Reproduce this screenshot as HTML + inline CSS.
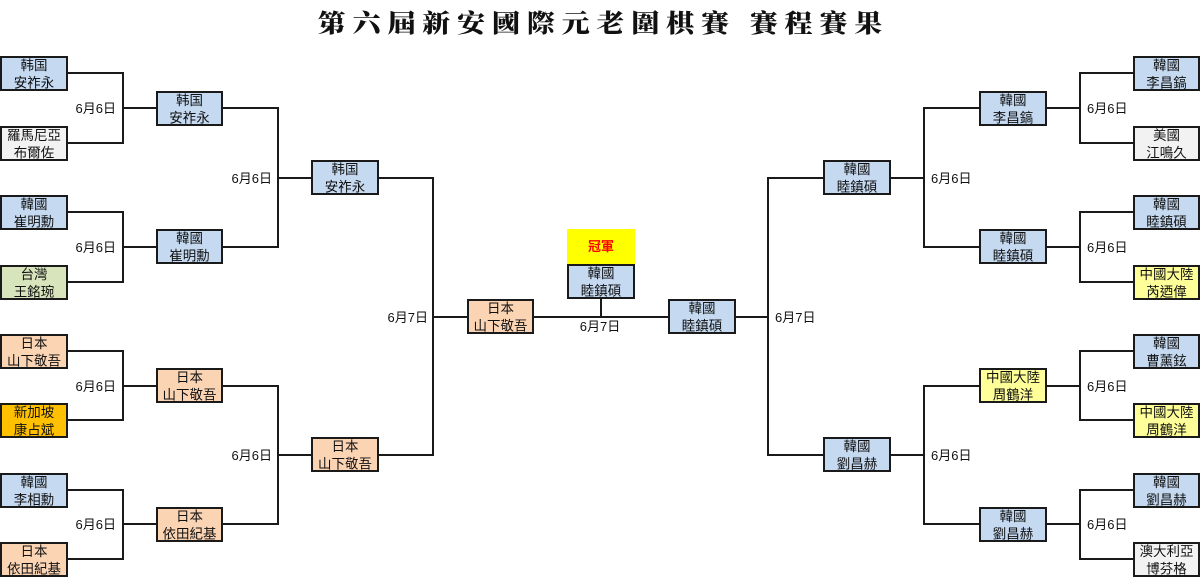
<!DOCTYPE html>
<html>
<head>
<meta charset="utf-8">
<style>
  html, body { margin: 0; padding: 0; background: #ffffff; }
  body { width: 1200px; height: 577px; overflow: hidden; }
  svg { display: block; }
  .t { font-family: "Liberation Sans", "Noto Sans CJK TC", "Noto Sans CJK SC", sans-serif; font-size: 13.5px; fill: #111; text-anchor: middle; }
  .l { font-family: "Liberation Sans", "Noto Sans CJK TC", "Noto Sans CJK SC", sans-serif; font-size: 13px; fill: #111; }
  .ttl { font-family: "Liberation Serif", "Noto Serif CJK SC", serif; font-size: 25px; font-weight: 900; fill: #111; }
  .bx { stroke: #1a1a1a; stroke-width: 2; }
  .ln { stroke: #1a1a1a; stroke-width: 2; fill: none; }
  .blue { fill: #c5d9f1; }
  .peach { fill: #fbd4b4; }
  .green { fill: #d7e4bc; }
  .orange { fill: #ffc000; }
  .ly { fill: #ffff99; }
  .grey { fill: #f2f2f2; }
</style>
</head>
<body>
<svg width="1200" height="577" viewBox="0 0 1200 577" xmlns="http://www.w3.org/2000/svg">
  <!-- Title -->
  <g transform="translate(600,0) scale(1.12,1)">
    <text class="ttl" x="0" y="32" text-anchor="middle" textLength="504" lengthAdjust="spacing">第六屆新安國際元老圍棋賽 賽程賽果</text>
  </g>

  <!-- Connector lines -->
  <path class="ln" d="M68 73 H123 V143 H68 M123 108 H156"/>
  <path class="ln" d="M68 212 H123 V282 H68 M123 247 H156"/>
  <path class="ln" d="M68 351 H123 V420 H68 M123 386 H156"/>
  <path class="ln" d="M68 490 H123 V559 H68 M123 524 H156"/>
  <path class="ln" d="M223 108 H278 V247 H223 M278 178 H311"/>
  <path class="ln" d="M223 386 H278 V524 H223 M278 455 H311"/>
  <path class="ln" d="M379 178 H433 V455 H379 M433 317 H467"/>
  <path class="ln" d="M534 317 H668 M601 299 V317"/>
  <path class="ln" d="M736 317 H768 M823 178 H768 V455 H823"/>
  <path class="ln" d="M891 178 H924 M979 108 H924 V247 H979"/>
  <path class="ln" d="M891 455 H924 M979 386 H924 V524 H979"/>
  <path class="ln" d="M1047 108 H1080 M1133 73 H1080 V143 H1133"/>
  <path class="ln" d="M1047 247 H1080 M1133 212 H1080 V282 H1133"/>
  <path class="ln" d="M1047 386 H1080 M1133 351 H1080 V420 H1133"/>
  <path class="ln" d="M1047 524 H1080 M1133 490 H1080 V559 H1133"/>

  <!-- Left R1 -->
  <rect class="bx blue" x="1" y="57" width="66" height="33"/>
  <text class="t" x="34" y="70">韩国</text><text class="t" x="34" y="87.5">安祚永</text>
  <rect class="bx grey" x="1" y="127" width="66" height="33"/>
  <text class="t" x="34" y="140">羅馬尼亞</text><text class="t" x="34" y="157.5">布爾佐</text>
  <rect class="bx blue" x="1" y="196" width="66" height="33"/>
  <text class="t" x="34" y="209">韓國</text><text class="t" x="34" y="226.5">崔明勳</text>
  <rect class="bx green" x="1" y="266" width="66" height="33"/>
  <text class="t" x="34" y="279">台灣</text><text class="t" x="34" y="296.5">王銘琬</text>
  <rect class="bx peach" x="1" y="335" width="66" height="33"/>
  <text class="t" x="34" y="348">日本</text><text class="t" x="34" y="365.5">山下敬吾</text>
  <rect class="bx orange" x="1" y="404" width="66" height="33"/>
  <text class="t" x="34" y="417">新加坡</text><text class="t" x="34" y="434.5">康占斌</text>
  <rect class="bx blue" x="1" y="474" width="66" height="33"/>
  <text class="t" x="34" y="487">韓國</text><text class="t" x="34" y="504.5">李相勳</text>
  <rect class="bx peach" x="1" y="543" width="66" height="33"/>
  <text class="t" x="34" y="556">日本</text><text class="t" x="34" y="573.5">依田紀基</text>

  <!-- Left R2 -->
  <rect class="bx blue" x="157" y="92" width="65" height="33"/>
  <text class="t" x="189.5" y="105">韩国</text><text class="t" x="189.5" y="122.5">安祚永</text>
  <rect class="bx blue" x="157" y="230" width="65" height="33"/>
  <text class="t" x="189.5" y="243">韓國</text><text class="t" x="189.5" y="260.5">崔明勳</text>
  <rect class="bx peach" x="157" y="369" width="65" height="33"/>
  <text class="t" x="189.5" y="382">日本</text><text class="t" x="189.5" y="399.5">山下敬吾</text>
  <rect class="bx peach" x="157" y="508" width="65" height="33"/>
  <text class="t" x="189.5" y="521">日本</text><text class="t" x="189.5" y="538.5">依田紀基</text>

  <!-- Left R3 -->
  <rect class="bx blue" x="312" y="161" width="66" height="33"/>
  <text class="t" x="345" y="174">韩国</text><text class="t" x="345" y="191.5">安祚永</text>
  <rect class="bx peach" x="312" y="438" width="66" height="33"/>
  <text class="t" x="345" y="451">日本</text><text class="t" x="345" y="468.5">山下敬吾</text>

  <!-- Semis -->
  <rect class="bx peach" x="468" y="300" width="65" height="33"/>
  <text class="t" x="500.5" y="313">日本</text><text class="t" x="500.5" y="330.5">山下敬吾</text>
  <rect class="bx blue" x="669" y="300" width="66" height="33"/>
  <text class="t" x="702" y="313">韓國</text><text class="t" x="702" y="330.5">睦鎮碩</text>

  <!-- Champion -->
  <rect x="567" y="229" width="68" height="35" fill="#ffff00"/>
  <text class="t" x="601" y="251" style="fill:#ff0000;font-weight:bold;font-size:13px;">冠軍</text>
  <rect class="bx blue" x="568" y="265" width="66" height="33"/>
  <text class="t" x="601" y="278">韓國</text><text class="t" x="601" y="295.5">睦鎮碩</text>

  <!-- Right R3 -->
  <rect class="bx blue" x="824" y="161" width="66" height="33"/>
  <text class="t" x="857" y="174">韓國</text><text class="t" x="857" y="191.5">睦鎮碩</text>
  <rect class="bx blue" x="824" y="438" width="66" height="33"/>
  <text class="t" x="857" y="451">韓國</text><text class="t" x="857" y="468.5">劉昌赫</text>

  <!-- Right R2 -->
  <rect class="bx blue" x="980" y="92" width="66" height="33"/>
  <text class="t" x="1013" y="105">韓國</text><text class="t" x="1013" y="122.5">李昌鎬</text>
  <rect class="bx blue" x="980" y="230" width="66" height="33"/>
  <text class="t" x="1013" y="243">韓國</text><text class="t" x="1013" y="260.5">睦鎮碩</text>
  <rect class="bx ly" x="980" y="369" width="66" height="33"/>
  <text class="t" x="1013" y="382">中國大陸</text><text class="t" x="1013" y="399.5">周鶴洋</text>
  <rect class="bx blue" x="980" y="508" width="66" height="33"/>
  <text class="t" x="1013" y="521">韓國</text><text class="t" x="1013" y="538.5">劉昌赫</text>

  <!-- Right R1 -->
  <rect class="bx blue" x="1134" y="57" width="65" height="33"/>
  <text class="t" x="1166.5" y="70">韓國</text><text class="t" x="1166.5" y="87.5">李昌鎬</text>
  <rect class="bx grey" x="1134" y="127" width="65" height="33"/>
  <text class="t" x="1166.5" y="140">美國</text><text class="t" x="1166.5" y="157.5">江鳴久</text>
  <rect class="bx blue" x="1134" y="196" width="65" height="33"/>
  <text class="t" x="1166.5" y="209">韓國</text><text class="t" x="1166.5" y="226.5">睦鎮碩</text>
  <rect class="bx ly" x="1134" y="266" width="65" height="33"/>
  <text class="t" x="1166.5" y="279">中國大陸</text><text class="t" x="1166.5" y="296.5">芮迺偉</text>
  <rect class="bx blue" x="1134" y="335" width="65" height="33"/>
  <text class="t" x="1166.5" y="348">韓國</text><text class="t" x="1166.5" y="365.5">曹薰鉉</text>
  <rect class="bx ly" x="1134" y="404" width="65" height="33"/>
  <text class="t" x="1166.5" y="417">中國大陸</text><text class="t" x="1166.5" y="434.5">周鶴洋</text>
  <rect class="bx blue" x="1134" y="474" width="65" height="33"/>
  <text class="t" x="1166.5" y="487">韓國</text><text class="t" x="1166.5" y="504.5">劉昌赫</text>
  <rect class="bx grey" x="1134" y="543" width="65" height="33"/>
  <text class="t" x="1166.5" y="556">澳大利亞</text><text class="t" x="1166.5" y="573.5">博芬格</text>

  <!-- Date labels left -->
  <text class="l" x="116" y="113" text-anchor="end">6月6日</text>
  <text class="l" x="116" y="252" text-anchor="end">6月6日</text>
  <text class="l" x="116" y="391" text-anchor="end">6月6日</text>
  <text class="l" x="116" y="529" text-anchor="end">6月6日</text>
  <text class="l" x="272" y="183" text-anchor="end">6月6日</text>
  <text class="l" x="272" y="460" text-anchor="end">6月6日</text>
  <text class="l" x="428" y="322" text-anchor="end">6月7日</text>
  <!-- center -->
  <text class="l" x="600" y="331" text-anchor="middle">6月7日</text>
  <!-- Date labels right -->
  <text class="l" x="775" y="322">6月7日</text>
  <text class="l" x="931" y="183">6月6日</text>
  <text class="l" x="931" y="460">6月6日</text>
  <text class="l" x="1087" y="113">6月6日</text>
  <text class="l" x="1087" y="252">6月6日</text>
  <text class="l" x="1087" y="391">6月6日</text>
  <text class="l" x="1087" y="529">6月6日</text>
</svg>
</body>
</html>
